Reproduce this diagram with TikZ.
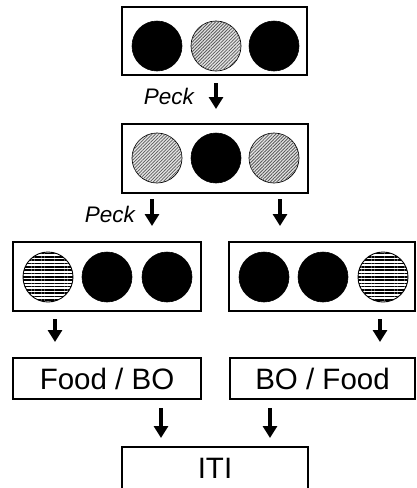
\documentclass[tikz,border=0pt]{standalone}
\usepackage{fontspec}
\setmainfont{Liberation Sans}
\usetikzlibrary{patterns.meta,arrows.meta}
\begin{document}
\begin{tikzpicture}[x=1pt,y=-1pt,
  box/.style={draw, line width=1.3pt, fill=white},
  txtbox/.style={draw, line width=1.3pt, minimum height=41pt, inner sep=0pt, font=\fontsize{29.5}{32}\selectfont},
  solid/.style={fill=black, draw=black, line width=0.6pt},
  diag/.style={draw=black, line width=0.7pt, fill=gray!20, postaction={pattern={Lines[angle=45,distance=2.3pt,line width=0.8pt]}, pattern color=gray!70!black}},
  horiz/.style={draw=black, line width=0.9pt, fill=white, postaction={pattern={Lines[angle=0,distance=3.3pt,line width=1.6pt]}, pattern color=black}},
  arr/.style={line width=3.6pt, -{Triangle[width=14pt,length=12pt]}},
  lbl/.style={font=\fontsize{22.5}{26}\selectfont\itshape, inner sep=0pt}
]
\useasboundingbox (0,0) rectangle (416,488);
% boxes
\node[box, minimum width=185pt, minimum height=68pt, inner sep=0pt] (b1) at (214.5,41) {};
\node[box, minimum width=186pt, minimum height=69pt, inner sep=0pt] (b2) at (215,158.5) {};
\node[box, minimum width=188pt, minimum height=69pt, inner sep=0pt] (b3) at (107,276.5) {};
\node[box, minimum width=186pt, minimum height=69pt, inner sep=0pt] (b4) at (322,276.5) {};
% circles row 1
\draw[solid] (157,46) circle (25);
\draw[diag] (216,46) circle (25);
\draw[solid] (274,46) circle (25);
% row 2
\draw[diag] (157,158) circle (25);
\draw[solid] (216,158) circle (25);
\draw[diag] (274,158) circle (25);
% row 3 left
\draw[horiz] (48,277) circle (25);
\draw[solid] (107,277) circle (25);
\draw[solid] (167,277) circle (25);
% row 3 right
\draw[solid] (264,277) circle (25);
\draw[solid] (323,277) circle (25);
\draw[horiz] (383,277) circle (25);
% text boxes
\node[txtbox, minimum width=188pt] (f1) at (107,378.5) {Food / BO};
\node[txtbox, minimum width=185pt] (f2) at (322.5,378.5) {BO / Food};
\node[txtbox, minimum width=186pt, minimum height=42pt] (iti) at (215,468) {ITI};
% labels
\node[lbl, anchor=east] (p1) at (194,96) {Peck};
\node[lbl, anchor=east] (p2) at (135,214) {Peck};
% arrow coordinates
\coordinate (a1s) at (216,83); \coordinate (a1e) at (216,109);
\coordinate (a2s) at (152,199); \coordinate (a2e) at (152,226);
\coordinate (a3s) at (280,199); \coordinate (a3e) at (280,226);
\coordinate (a4s) at (55,319); \coordinate (a4e) at (55,342);
\coordinate (a5s) at (380,319); \coordinate (a5e) at (380,342);
\coordinate (a6s) at (161,408); \coordinate (a6e) at (161,438);
\coordinate (a7s) at (270,408); \coordinate (a7e) at (270,438);
\foreach \i in {1,...,7} {\draw[arr] (a\i s) -- (a\i e);}
\end{tikzpicture}
\end{document}
